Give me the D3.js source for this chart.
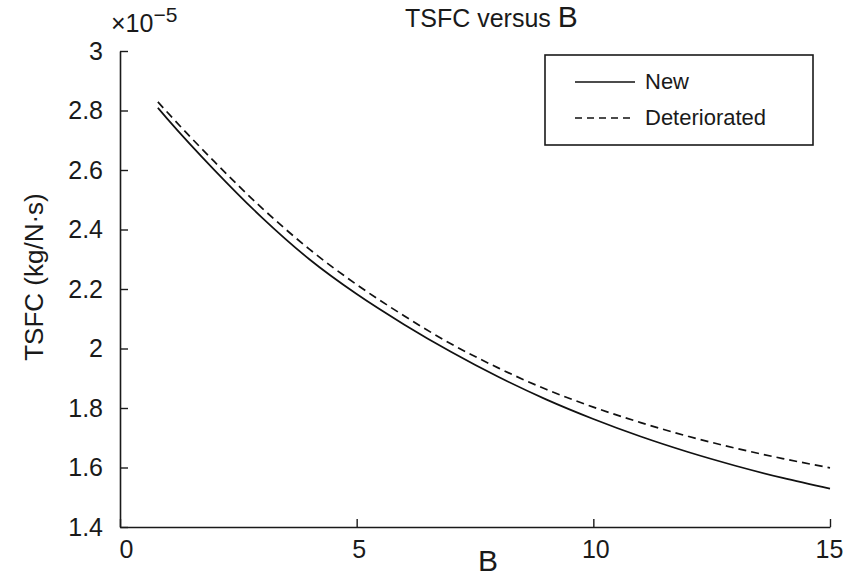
<!DOCTYPE html>
<html>
<head>
<meta charset="utf-8">
<script src="https://cdn.jsdelivr.net/npm/d3@7"></script>
<style>
  body { margin: 0; background: #fff; }
  text { font-family: "Liberation Sans", Arial, sans-serif; fill: #1a1a1a; }
</style>
</head>
<body>
<svg id="chart" width="856" height="578"></svg>
<script>
// values (TSFC in units of 1e-5 kg/N.s)
const bypass = [0.8, 1, 2, 3, 4, 5, 6, 7, 8, 9, 10, 11, 12, 13, 14, 15];
const tsfcNew = [2.809, 2.772, 2.599, 2.440, 2.300, 2.183, 2.081, 1.988, 1.904, 1.829, 1.763, 1.704, 1.652, 1.606, 1.565, 1.529];
const tsfcDet = [2.829, 2.794, 2.627, 2.472, 2.334, 2.215, 2.110, 2.015, 1.934, 1.863, 1.803, 1.751, 1.705, 1.665, 1.630, 1.599];
const xTicks = [0, 5, 10, 15];
const yTicks = [1.4, 1.6, 1.8, 2, 2.2, 2.4, 2.6, 2.8, 3];
const seriesNames = ["New", "Deteriorated"];

const svg = d3.select("#chart");

const x = d3.scaleLinear().domain([0, 15]).range([120, 830]);
const y = d3.scaleLinear().domain([1.4, 3]).range([527, 51]);

// axes, ticks pointing inwards like matlab
let xAxis = d3.axisBottom(x).tickValues(xTicks).tickFormat(d3.format("d"))
    .tickSizeInner(-8).tickSizeOuter(0).tickPadding(13);
let yAxis = d3.axisLeft(y).tickValues(yTicks).tickFormat(d => String(d))
    .tickSizeInner(-8).tickSizeOuter(0).tickPadding(17);

let gx = svg.append("g").attr("transform", "translate(0,527)").call(xAxis);
let gy = svg.append("g").attr("transform", "translate(120,0)").call(yAxis);

for (const g of [gx, gy]) {
    g.select(".domain").attr("stroke", "#1a1a1a").attr("stroke-width", 1.6);
    g.selectAll(".tick line").attr("stroke", "#1a1a1a").attr("stroke-width", 1.4);
    g.selectAll(".tick text").style("font-size", "25px").attr("fill", "#1a1a1a")
        .style("font-family", '"Liberation Sans", Arial, sans-serif');
}
// the 0 and 15 labels sit slightly inside the frame ends
gx.selectAll(".tick text").attr("dx", d => d == 0 ? 6 : (d == 15 ? -1 : 2));

// curves
let line = d3.line()
    .x((d, i) => x(bypass[i]))
    .y(d => y(d))
    .curve(d3.curveMonotoneX);

svg.append("path").datum(tsfcNew)
    .attr("d", line)
    .attr("fill", "none")
    .attr("stroke", "#111")
    .attr("stroke-width", 1.7);

svg.append("path").datum(tsfcDet)
    .attr("d", line)
    .attr("fill", "none")
    .attr("stroke", "#111")
    .attr("stroke-width", 1.7)
    .attr("stroke-dasharray", "8,5");

// exponent label
let expo = svg.append("text").attr("x", 111).attr("y", 32).style("font-size", "25px");
expo.append("tspan").text("×10");
expo.append("tspan").attr("dy", -10).style("font-size", "21px").text("−5");

// title
let title = svg.append("text").attr("x", 405).attr("y", 27).style("font-size", "25px");
title.append("tspan").text("TSFC versus ");
title.append("tspan").style("font-size", "30px").text("B");

// axis labels
svg.append("text").attr("x", 488).attr("y", 571)
    .attr("text-anchor", "middle").style("font-size", "30px").text("B");

svg.append("text")
    .attr("transform", "translate(43,277) rotate(-90)")
    .attr("text-anchor", "middle").style("font-size", "26px")
    .text("TSFC (kg/N·s)");

// legend
let legend = svg.append("g");
legend.append("rect")
    .attr("x", 545).attr("y", 55).attr("width", 268).attr("height", 90)
    .attr("fill", "#fff").attr("stroke", "#1a1a1a").attr("stroke-width", 1.6);

seriesNames.forEach((name, i) => {
    let ly = 82 + i * 36;
    legend.append("line")
        .attr("x1", 575).attr("x2", 635).attr("y1", ly).attr("y2", ly)
        .attr("stroke", "#111").attr("stroke-width", 1.4)
        .attr("stroke-dasharray", i == 1 ? "7,5" : null);
    legend.append("text")
        .attr("x", 645).attr("y", ly + 7)
        .style("font-size", "22px").text(name);
});
</script>
</body>
</html>
